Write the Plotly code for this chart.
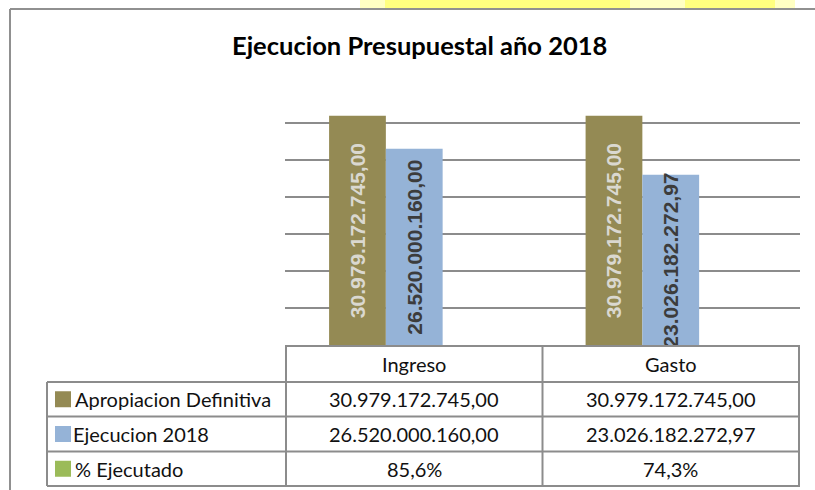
import plotly.graph_objects as go

# ---------------- data ----------------
categories = ["Ingreso", "Gasto"]
series_names = ["Apropiacion Definitiva", "Ejecucion 2018", "% Ejecutado"]
apropiacion = [30979172745.00, 30979172745.00]
ejecucion = [26520000160.00, 23026182272.97]
pct_ejecutado = [85.6, 74.3]
title_text = "Ejecucion Presupuestal año 2018"

colors = ["#948A54", "#95B3D7", "#9BBB59"]
label_colors = ["#DAD8D0", "#3C3C3C"]

W, H = 815, 490


def fmt_money(v):
    s = f"{v:,.2f}"
    return s.replace(",", "#").replace(".", ",").replace("#", ".")


def fmt_pct(v):
    return f"{v:.1f}".replace(".", ",") + "%"


def px(x):
    return x / W


def py(y):
    return 1 - y / H


# plot area in window pixels
PL, PR, PT, PB = 285, 800, 85.8, 345.5

fig = go.Figure()
fig.add_trace(go.Bar(
    x=categories, y=apropiacion, name=series_names[0],
    marker=dict(color=colors[0], line=dict(width=0)),
    text=[fmt_money(v) for v in apropiacion], textposition="inside",
    textangle=-90, insidetextanchor="middle", constraintext="none",
    textfont=dict(family="Liberation Sans", size=21, color=label_colors[0], weight="bold"),
))
fig.add_trace(go.Bar(
    x=categories, y=ejecucion, name=series_names[1],
    marker=dict(color=colors[1], line=dict(width=0)),
    text=[fmt_money(v) for v in ejecucion], textposition="inside",
    textangle=-90, insidetextanchor="middle", constraintext="none",
    textfont=dict(family="Liberation Sans", size=21, color=label_colors[1], weight="bold"),
))
fig.add_trace(go.Bar(
    x=categories, y=[p / 100 for p in pct_ejecutado], name=series_names[2],
    marker=dict(color=colors[2], line=dict(width=0)),
))

grid_col = "#8C8C8C"
shapes = []
annotations = []

# yellow background glow above the frame
for x0, x1, c in [(360, 795, "rgba(255,255,170,0.7)"), (385, 630, "rgba(255,255,110,0.8)"),
                  (685, 775, "rgba(255,255,110,0.8)")]:
    shapes.append(dict(type="rect", xref="paper", yref="paper", x0=px(x0), x1=px(x1),
                       y0=py(9), y1=1, line=dict(width=0), fillcolor=c, layer="below"))
# outer frame (left & top)
shapes.append(dict(type="line", xref="paper", yref="paper", x0=px(10), x1=px(10),
                   y0=py(9), y1=0, line=dict(color="#909090", width=2)))
shapes.append(dict(type="line", xref="paper", yref="paper", x0=px(10), x1=1,
                   y0=py(9), y1=py(9), line=dict(color="#909090", width=2)))

# table geometry
row_y = [346, 382, 416.5, 451.5, 486]
TL = 47
tcol = "#8C8C8C"
shapes.append(dict(type="line", xref="paper", yref="paper", x0=px(PL), x1=px(PR),
                   y0=py(row_y[0]), y1=py(row_y[0]), line=dict(color=tcol, width=2)))
for yy in row_y[1:]:
    shapes.append(dict(type="line", xref="paper", yref="paper", x0=px(TL), x1=px(PR),
                       y0=py(yy), y1=py(yy), line=dict(color=tcol, width=2)))
shapes.append(dict(type="line", xref="paper", yref="paper", x0=px(TL), x1=px(TL),
                   y0=py(row_y[1]), y1=py(row_y[-1]), line=dict(color=tcol, width=2)))
for xv in [-0.5, 0.5, 1.5]:
    shapes.append(dict(type="line", xref="x", yref="paper", x0=xv, x1=xv,
                       y0=py(row_y[0]), y1=py(row_y[-1]), line=dict(color=tcol, width=2)))

tfont = dict(family="Lato", size=20, color="#111111")
for c in categories:
    annotations.append(dict(xref="x", yref="paper", x=c, y=py((row_y[0] + row_y[1]) / 2),
                            text=c, showarrow=False, font=tfont, xanchor="center", yanchor="middle"))
rows = [
    [fmt_money(v) for v in apropiacion],
    [fmt_money(v) for v in ejecucion],
    [fmt_pct(v) for v in pct_ejecutado],
]
for i, (name, vals) in enumerate(zip(series_names, rows)):
    yc = (row_y[i + 1] + row_y[i + 2]) / 2
    shapes.append(dict(type="rect", xref="paper", yref="paper", x0=px(55), x1=px(71),
                       y0=py(yc - 8), y1=py(yc + 8), line=dict(width=0), fillcolor=colors[i]))
    annotations.append(dict(xref="paper", yref="paper", x=px(71 if i == 1 else 73), y=py(yc),
                            text=name, showarrow=False, font=tfont, xanchor="left", yanchor="middle"))
    for c, v in zip(categories, vals):
        annotations.append(dict(xref="x", yref="paper", x=c, y=py(yc), text=v, showarrow=False,
                                font=tfont, xanchor="center", yanchor="middle"))

annotations.append(dict(xref="paper", yref="paper", x=px(419), y=py(45), text=title_text,
                        showarrow=False, xanchor="center", yanchor="middle",
                        font=dict(family="Lato", size=25.5, color="#000000", weight="bold")))

fig.update_layout(
    width=W, height=H, margin=dict(l=0, r=0, t=0, b=0),
    paper_bgcolor="white", plot_bgcolor="white",
    barmode="group", bargap=0.336, bargroupgap=0,
    showlegend=False,
    xaxis=dict(domain=[px(PL), px(PR)], showticklabels=False, showgrid=False,
               zeroline=False, showline=False, ticks=""),
    yaxis=dict(domain=[py(PB), py(PT)], range=[0, 35e9], dtick=5e9, showticklabels=False,
               showgrid=True, gridcolor=grid_col, gridwidth=1.5, zeroline=False,
               showline=False, ticks=""),
    shapes=shapes, annotations=annotations,
)

fig.write_html("out.html", config={"displayModeBar": False},
               post_script="document.body.style.margin='0';document.body.style.overflow='hidden';")
